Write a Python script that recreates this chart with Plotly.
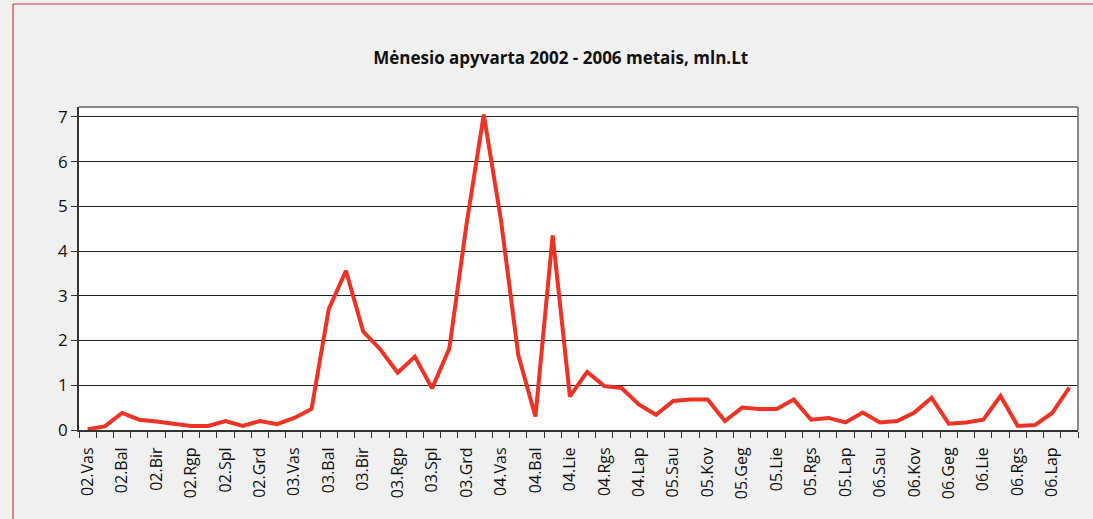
import plotly.graph_objects as go

months = [
    "02.Vas", "02.Kov", "02.Bal", "02.Geg", "02.Bir", "02.Lie", "02.Rgp", "02.Rgs", "02.Spl", "02.Lap", "02.Grd",
    "03.Sau", "03.Vas", "03.Kov", "03.Bal", "03.Geg", "03.Bir", "03.Lie", "03.Rgp", "03.Rgs", "03.Spl", "03.Lap", "03.Grd",
    "04.Sau", "04.Vas", "04.Kov", "04.Bal", "04.Bir", "04.Lie", "04.Rgp", "04.Rgs", "04.Spl", "04.Lap", "04.Grd",
    "05.Sau", "05.Vas", "05.Kov", "05.Bal", "05.Geg", "05.Bir", "05.Lie", "05.Rgp", "05.Rgs", "05.Spl", "05.Lap", "05.Grd",
    "06.Sau", "06.Vas", "06.Kov", "06.Bal", "06.Geg", "06.Bir", "06.Lie", "06.Rgp", "06.Rgs", "06.Spl", "06.Lap", "06.Grd",
]

turnover = [
    0.02, 0.08, 0.38, 0.23, 0.19, 0.13, 0.09, 0.09, 0.20, 0.09, 0.20,
    0.13, 0.27, 0.47, 2.70, 3.56, 2.20, 1.80, 1.28, 1.64, 0.93, 1.82,
    4.60, 7.05, 4.69, 1.68, 0.30, 4.35, 0.75, 1.30, 0.98, 0.94, 0.57,
    0.34, 0.65, 0.68, 0.68, 0.20, 0.50, 0.47, 0.47, 0.68, 0.23,
    0.27, 0.17, 0.39, 0.17, 0.20, 0.39, 0.72, 0.14, 0.17, 0.23, 0.76,
    0.09, 0.11, 0.38, 0.95,
]

title_text = "Mėnesio apyvarta 2002 - 2006 metais, mln.Lt"

idx = list(range(len(months)))
label_idx = idx[::2]
label_text = [months[i] for i in label_idx]
boundaries = [i - 0.5 for i in range(len(months) + 1)]

fig = go.Figure()
fig.add_trace(go.Scatter(
    x=idx, y=turnover, mode="lines",
    line=dict(color="#ee3224", width=4),
    hoverinfo="skip", showlegend=False,
))

fig.update_layout(
    width=1093, height=519,
    paper_bgcolor="#f0f0f0", plot_bgcolor="#ffffff",
    margin=dict(l=79, r=15, t=107, b=89),
    title=dict(text="<b>" + title_text + "</b>", x=0.513, xanchor="center",
               y=0.888, yanchor="middle",
               font=dict(family="Open Sans", size=17, color="#111111")),
    font=dict(family="Open Sans", color="#111111"),
)

fig.update_xaxes(
    range=[-0.5, len(months) - 0.5],
    tickmode="array", tickvals=label_idx, ticktext=label_text,
    tickangle=-90, ticks="", tickfont=dict(size=16, color="#111111"),
    ticklabelstandoff=9,
    showgrid=False, zeroline=False,
    showline=True, linecolor="#333333", linewidth=2,
    minor=dict(tickmode="array", tickvals=boundaries, ticks="outside",
               ticklen=6, tickwidth=1, tickcolor="#333333", showgrid=False),
)

fig.update_yaxes(
    range=[0, 7.22], tickmode="linear", tick0=0, dtick=1,
    ticks="outside", ticklen=6, tickwidth=1, tickcolor="#333333",
    tickfont=dict(size=17, color="#111111"),
    showgrid=True, gridcolor="#222222", gridwidth=1,
    zeroline=False, showline=True, linecolor="#333333", linewidth=1.5,
)

# gray frame on top and right of plot area
fig.add_shape(type="line", xref="paper", yref="paper", x0=0, x1=1, y0=1, y1=1,
              line=dict(color="#8a8a8a", width=2))
fig.add_shape(type="line", xref="paper", yref="paper", x0=1, x1=1, y0=0, y1=1,
              line=dict(color="#8a8a8a", width=2))

# outer page border (left red line, top line)
fig.add_shape(type="line", xref="paper", yref="paper",
              x0=-66 / 999, x1=-66 / 999, y0=-89 / 323, y1=(323 + 103) / 323,
              line=dict(color="#c43c3c", width=1.2))
fig.add_shape(type="line", xref="paper", yref="paper",
              x0=-66 / 999, x1=(999 + 15) / 999, y0=(323 + 103) / 323, y1=(323 + 103) / 323,
              line=dict(color="#c43c3c", width=1.2))

fig.write_html("out.html", config={"displayModeBar": False},
               post_script="document.body.style.margin='0';")
